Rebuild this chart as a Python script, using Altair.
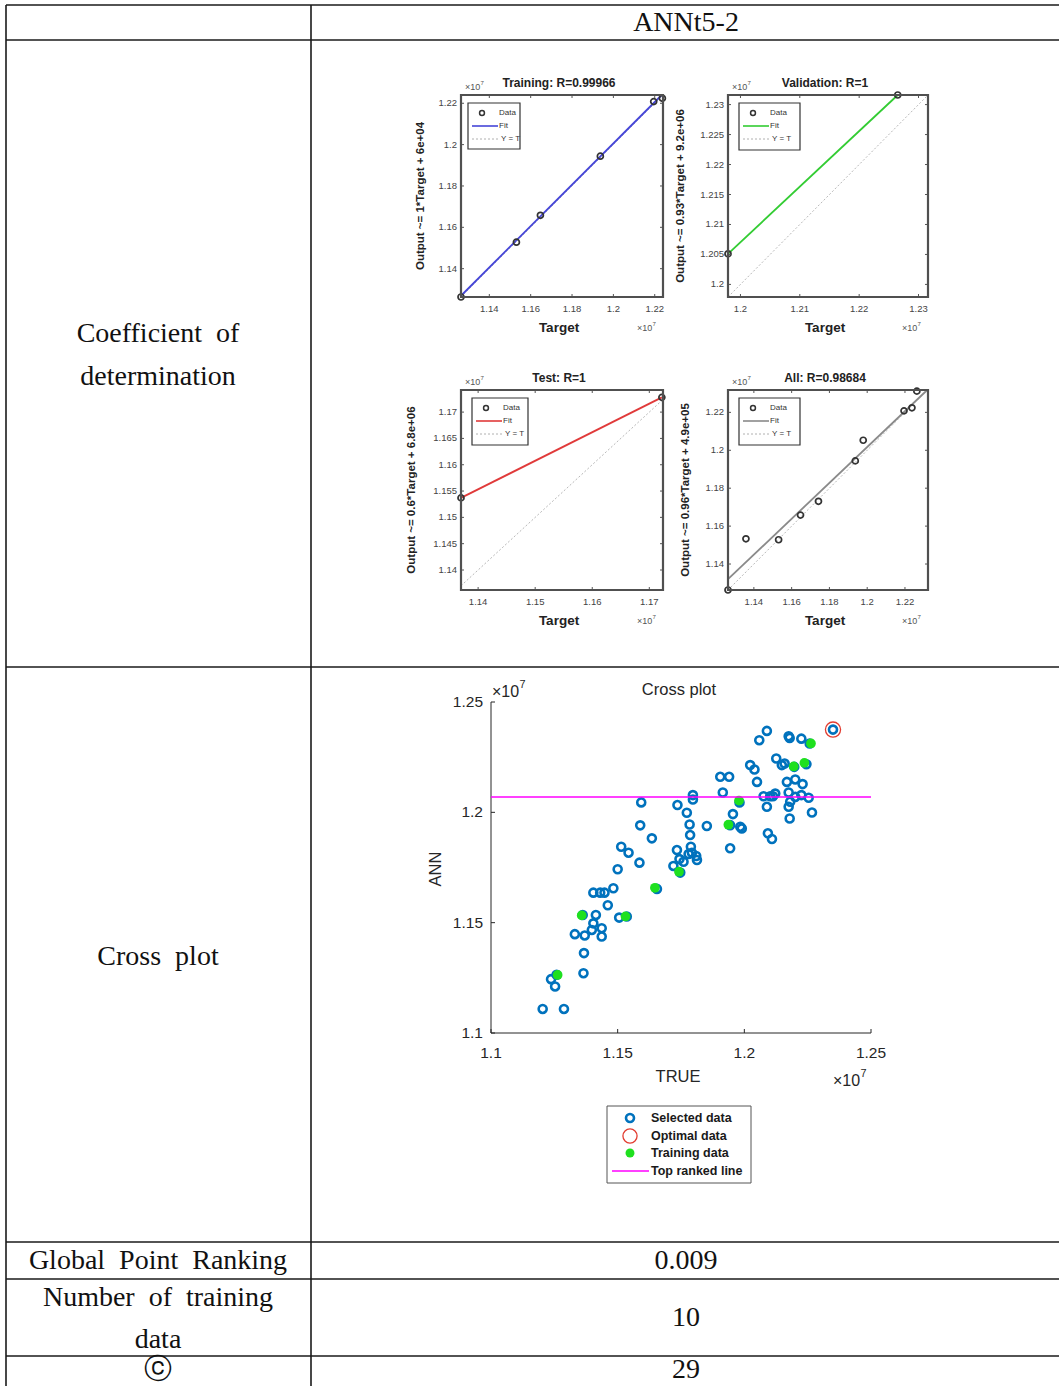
import altair as alt
import pandas as pd

W, H = 1059, 1386

# ---------------- data (all values in units of 1e7, as on the MATLAB axes) ----------------
TRAIN_TARGET = [1.1263, 1.1531, 1.1647, 1.1937, 1.2195, 1.2237]
TRAIN_OUTPUT = [1.1263, 1.1528, 1.1658, 1.1944, 1.2208, 1.2224]
TRAIN_FIT_X = [1.1263, 1.2234]
TRAIN_FIT_Y = [1.1269, 1.2240]

VAL_TARGET = [1.1979, 1.2265]
VAL_OUTPUT = [1.2051, 1.2316]
VAL_FIT_X = [1.1979, 1.2265]
VAL_FIT_Y = [1.2051, 1.2316]

TEST_TARGET = [1.1370, 1.1722]
TEST_OUTPUT = [1.1537, 1.1728]
TEST_FIT_X = [1.1370, 1.1722]
TEST_FIT_Y = [1.1537, 1.1728]

ALL_TARGET = [1.1263, 1.1358, 1.1531, 1.1647, 1.1742, 1.1937, 1.1979, 1.2195, 1.2237, 1.2263]
ALL_OUTPUT = [1.1263, 1.1533, 1.1528, 1.1658, 1.1731, 1.1944, 1.2053, 1.2208, 1.2224, 1.2312]
ALL_FIT_X = [1.1263, 1.2318]
ALL_FIT_Y = [1.1320, 1.2318]

TICKS_02 = [1.14, 1.16, 1.18, 1.2, 1.22]
VAL_XTICKS = [1.2, 1.21, 1.22, 1.23]
VAL_YTICKS = [1.2, 1.205, 1.21, 1.215, 1.22, 1.225, 1.23]
TEST_XTICKS = [1.14, 1.15, 1.16, 1.17]
TEST_YTICKS = [1.14, 1.145, 1.15, 1.155, 1.16, 1.165, 1.17]

SEL_TRUE = [
    1.1204, 1.1288, 1.1237, 1.1253, 1.1259, 1.1365, 1.1367, 1.1331, 1.1370, 1.1404,
    1.1431, 1.1448, 1.1461, 1.1483, 1.1414, 1.1404, 1.1398, 1.1437, 1.1437, 1.1506,
    1.1500, 1.1514, 1.1543, 1.1586, 1.1589, 1.1593, 1.1635, 1.1720, 1.1734, 1.1736,
    1.1744, 1.1760, 1.1773, 1.1784, 1.1786, 1.1789, 1.1797, 1.1797, 1.1793, 1.1780,
    1.1810, 1.1813, 1.1852, 1.1905, 1.1940, 1.1915, 1.1944, 1.1955, 1.1984, 1.1990,
    1.1944, 1.2023, 1.2040, 1.2050, 1.2059, 1.2089, 1.2076, 1.2089, 1.2093, 1.2109,
    1.2102, 1.2113, 1.2122, 1.2126, 1.2148, 1.2159, 1.2168, 1.2175, 1.2179, 1.2175,
    1.2181, 1.2175, 1.2179, 1.2201, 1.2225, 1.2230, 1.2225, 1.2254, 1.2267, 1.2350,
    1.2201, 1.2197, 1.2245, 1.2258, 1.1981, 1.1747, 1.1655, 1.1536, 1.1362]
SEL_ANN = [
    1.1109, 1.1109, 1.1244, 1.1211, 1.1264, 1.1271, 1.1362, 1.1448, 1.1442, 1.1636,
    1.1636, 1.1636, 1.1579, 1.1656, 1.1535, 1.1497, 1.1467, 1.1475, 1.1437, 1.1523,
    1.1742, 1.1844, 1.1817, 1.1772, 1.1941, 1.2045, 1.1882, 1.1757, 1.1829, 1.2033,
    1.1788, 1.1776, 1.1998, 1.1945, 1.1897, 1.1844, 1.2078, 1.2058, 1.1817, 1.1811,
    1.1802, 1.1784, 1.1938, 1.2161, 1.2161, 1.2090, 1.1837, 1.1992, 1.1935, 1.1927,
    1.1942, 1.2214, 1.2194, 1.2138, 1.2327, 1.2369, 1.2073, 1.2025, 1.1905, 1.1879,
    1.2073, 1.2073, 1.2085, 1.2244, 1.2214, 1.2221, 1.2138, 1.2345, 1.2337, 1.2090,
    1.2048, 1.2025, 1.1972, 1.2149, 1.2334, 1.2128, 1.2078, 1.2066, 1.1999, 1.2375,
    1.2070, 1.2206, 1.2218, 1.2312, 1.2045, 1.1727, 1.1653, 1.1528, 1.1535]
OPT_TRUE = [1.2350]
OPT_ANN = [1.2375]
TOP_RANKED_ANN = 1.2069
CROSS_TICKS = [1.1, 1.15, 1.2, 1.25]

ROW_LABELS = ["Coefficient\u2002of", "determination", "Cross\u2002plot",
              "Global\u2002Point\u2002Ranking", "Number\u2002of\u2002training", "data", "\u24d2"]
COLUMN_TITLE = "ANNt5-2"
VALUES = ["0.009", "10", "29"]

# ---------------- helpers ----------------
ONE = pd.DataFrame({"k": [0]})
SANS = "Liberation Sans"
SERIF = "Liberation Serif"
layers = []


def text(s, x, y, size, font=SANS, weight="normal", color="#222222",
         align="center", baseline="middle", angle=None):
    kw = dict(text=s, font=font, fontSize=size, fontWeight=weight, color=color,
              align=align, baseline=baseline)
    if angle is not None:
        kw["angle"] = angle
    layers.append(alt.Chart(ONE).mark_text(**kw).encode(x=alt.value(x), y=alt.value(y)))


def hline(y, x0, x1, color="#1a1a1a", width=1.6, dash=None):
    kw = dict(color=color, strokeWidth=width)
    if dash:
        kw["strokeDash"] = dash
    layers.append(alt.Chart(ONE).mark_rule(**kw).encode(
        x=alt.value(x0), x2=alt.value(x1), y=alt.value(y)))


def vline(x, y0, y1, color="#1a1a1a", width=1.6):
    layers.append(alt.Chart(ONE).mark_rule(color=color, strokeWidth=width).encode(
        x=alt.value(x), y=alt.value(y0), y2=alt.value(y1)))


def rect(x0, y0, x1, y1, stroke, width, fill=None):
    kw = dict(stroke=stroke, strokeWidth=width)
    if fill:
        kw["fill"] = fill
    else:
        kw["fillOpacity"] = 0
    layers.append(alt.Chart(ONE).mark_rect(**kw).encode(
        x=alt.value(x0), x2=alt.value(x1), y=alt.value(y0), y2=alt.value(y1)))


def marker(x, y, size, color, filled, width=1.5):
    layers.append(alt.Chart(ONE).mark_point(shape="circle", filled=filled, color=color, size=size,
                                            strokeWidth=width, opacity=1).encode(
        x=alt.value(x), y=alt.value(y)))


def times10(x, y, size, color, weight="normal"):
    text("\u00d710", x, y, size, color=color, align="left", weight=weight)
    text("7", x + 1.72 * size, y - 0.42 * size, 0.68 * size, color=color, align="left", weight=weight)


def small_plot(box, xdom, ydom, xticks, yticks, tgt, out, fitx, fity, fit_color,
               title, ylabel, ylab_x, leg):
    x0, y0, x1, y1 = box
    xs = alt.Scale(domain=xdom, range=[x0, x1], nice=False, zero=False)
    ys = alt.Scale(domain=ydom, range=[y1, y0], nice=False, zero=False)

    def X(f):
        return alt.X(f, type="quantitative", scale=xs, axis=None)

    def Y(f):
        return alt.Y(f, type="quantitative", scale=ys, axis=None)

    lo, hi = max(xdom[0], ydom[0]), min(xdom[1], ydom[1])
    layers.append(alt.Chart(pd.DataFrame({"a": [lo, hi], "b": [lo, hi]})).mark_line(
        color="#b8b8b8", strokeWidth=1, strokeDash=[2, 2]).encode(x=X("a"), y=Y("b")))
    layers.append(alt.Chart(pd.DataFrame({"a": fitx, "b": fity})).mark_line(
        color=fit_color, strokeWidth=1.8).encode(x=X("a"), y=Y("b")))
    layers.append(alt.Chart(pd.DataFrame({"a": tgt, "b": out})).mark_point(
        shape="circle", filled=False, color="#333333", size=36, strokeWidth=1.7, opacity=1).encode(
        x=X("a"), y=Y("b")))

    xt = pd.DataFrame({"t": xticks, "lab": [str(v) for v in xticks]})
    yt = pd.DataFrame({"t": yticks, "lab": [str(v) for v in yticks]})
    for ya, yb in ((y1, y1 - 3), (y0, y0 + 3)):
        layers.append(alt.Chart(xt).mark_rule(color="#555555", strokeWidth=1).encode(
            x=X("t"), y=alt.value(ya), y2=alt.value(yb)))
    for xa, xb in ((x0, x0 + 3), (x1, x1 - 3)):
        layers.append(alt.Chart(yt).mark_rule(color="#555555", strokeWidth=1).encode(
            y=Y("t"), x=alt.value(xa), x2=alt.value(xb)))
    layers.append(alt.Chart(xt).mark_text(font=SANS, fontSize=9.5, color="#444444",
                                          align="center", baseline="middle").encode(
        x=X("t"), y=alt.value(y1 + 12), text="lab:N"))
    layers.append(alt.Chart(yt).mark_text(font=SANS, fontSize=9.5, color="#444444",
                                          align="right", baseline="middle").encode(
        y=Y("t"), x=alt.value(x0 - 4), text="lab:N"))
    rect(x0, y0, x1, y1, "#505050", 2.2)

    # legend
    lx0, ly0, lx1, ly1 = leg
    rect(lx0, ly0, lx1, ly1, "#333333", 1.2, fill="white")
    r1, r2, r3 = ly0 + 10, ly0 + 23, ly0 + 36
    marker(lx0 + 14, r1, 24, "#333333", False, 1.5)
    text("Data", lx0 + 31, r1, 8, color="#333333", align="left")
    hline(r2, lx0 + 4, lx0 + 30, color=fit_color, width=1.6)
    text("Fit", lx0 + 31, r2, 8, color="#333333", align="left")
    hline(r3, lx0 + 4, lx0 + 30, color="#b0b0b0", width=1, dash=[2, 2])
    text("Y = T", lx0 + 33, r3, 8, color="#333333", align="left")

    # texts
    cx = (x0 + x1) / 2
    text(title, cx - 3, y0 - 12, 12, weight="bold", color="#222222")
    times10(x0 + 4, y0 - 8, 9, "#555555")
    times10(x1 - 26, y1 + 31, 9, "#555555")
    text("Target", cx - 3, y1 + 31, 13.5, weight="bold", color="#222222")
    text(ylabel, ylab_x, (y0 + y1) / 2, 11.5, weight="bold", color="#222222", angle=270)


# ---------------- table ----------------
TX0, TXM, TXR = 6, 311, 1059
hline(5, TX0, TXR)
for yy in (40, 667, 1242, 1279, 1356):
    hline(yy, TX0, TXR)
vline(TX0, 5, H)
vline(TXM, 5, H)

LC, RC = 158, 686
text(COLUMN_TITLE, RC, 23, 28, font=SERIF, color="#111111")
for lab, yy in zip(ROW_LABELS, (334, 377, 957, 1261, 1298, 1340, 1370)):
    text(lab, LC, yy, 28, font=SERIF, color="#111111")
for v, yy in zip(VALUES, (1261, 1318, 1370)):
    text(v, RC, yy, 28, font=SERIF, color="#111111")

# ---------------- regression panels ----------------
small_plot((461, 95, 663, 297), [1.1263, 1.2240], [1.1263, 1.2240], TICKS_02, TICKS_02,
           TRAIN_TARGET, TRAIN_OUTPUT, TRAIN_FIT_X, TRAIN_FIT_Y, "#4646d8",
           "Training: R=0.99966", "Output ~= 1*Target + 6e+04", 421, (468, 103, 520, 149))
small_plot((728, 95, 928, 297), [1.1979, 1.2316], [1.1979, 1.2316], VAL_XTICKS, VAL_YTICKS,
           VAL_TARGET, VAL_OUTPUT, VAL_FIT_X, VAL_FIT_Y, "#33cc33",
           "Validation: R=1", "Output ~= 0.93*Target + 9.2e+06", 681, (739, 103, 800, 150))
small_plot((461, 390, 663, 590), [1.1370, 1.1724], [1.1362, 1.1742], TEST_XTICKS, TEST_YTICKS,
           TEST_TARGET, TEST_OUTPUT, TEST_FIT_X, TEST_FIT_Y, "#e03a3a",
           "Test: R=1", "Output ~= 0.6*Target + 6.8e+06", 412, (472, 398, 528, 445))
small_plot((728, 390, 928, 590), [1.1263, 1.2322], [1.1263, 1.2318], TICKS_02, TICKS_02,
           ALL_TARGET, ALL_OUTPUT, ALL_FIT_X, ALL_FIT_Y, "#8a8a8a",
           "All: R=0.98684", "Output ~= 0.96*Target + 4.9e+05", 686, (739, 398, 800, 445))

# ---------------- cross plot ----------------
CX0, CY0, CX1, CY1 = 491, 702, 871, 1033
AX = "#262626"
cxs = alt.Scale(domain=[1.1, 1.25], range=[CX0, CX1], nice=False, zero=False)
cys = alt.Scale(domain=[1.1, 1.25], range=[CY1, CY0], nice=False, zero=False)


def CXe(f):
    return alt.X(f, type="quantitative", scale=cxs, axis=None)


def CYe(f):
    return alt.Y(f, type="quantitative", scale=cys, axis=None)


vline(CX0, CY0, CY1, color=AX, width=1)
hline(CY1, CX0, CX1, color=AX, width=1)
ct = pd.DataFrame({"t": CROSS_TICKS, "lab": [str(v) for v in CROSS_TICKS]})
layers.append(alt.Chart(ct).mark_rule(color=AX, strokeWidth=1).encode(
    x=CXe("t"), y=alt.value(CY1), y2=alt.value(CY1 - 4)))
layers.append(alt.Chart(ct).mark_rule(color=AX, strokeWidth=1).encode(
    y=CYe("t"), x=alt.value(CX0), x2=alt.value(CX0 + 4)))
layers.append(alt.Chart(ct).mark_text(font=SANS, fontSize=15.5, color=AX, align="center",
                                      baseline="middle").encode(
    x=CXe("t"), y=alt.value(CY1 + 20), text="lab:N"))
layers.append(alt.Chart(ct).mark_text(font=SANS, fontSize=15.5, color=AX, align="right",
                                      baseline="middle").encode(
    y=CYe("t"), x=alt.value(CX0 - 8), text="lab:N"))

layers.append(alt.Chart(pd.DataFrame({"a": SEL_TRUE, "b": SEL_ANN})).mark_point(
    shape="circle", filled=False, color="#0072BD", size=64, strokeWidth=2.6, opacity=1).encode(
    x=CXe("a"), y=CYe("b")))
layers.append(alt.Chart(pd.DataFrame({"a": OPT_TRUE, "b": OPT_ANN})).mark_point(
    shape="circle", filled=False, color="#e23c30", size=230, strokeWidth=1.3, opacity=1).encode(
    x=CXe("a"), y=CYe("b")))
layers.append(alt.Chart(pd.DataFrame({"a": ALL_TARGET, "b": ALL_OUTPUT})).mark_point(
    shape="circle", filled=True, color="#1fe01f", size=95, opacity=1).encode(
    x=CXe("a"), y=CYe("b")))
layers.append(alt.Chart(pd.DataFrame({"a": [1.1], "a2": [1.25], "b": [TOP_RANKED_ANN]})).mark_rule(
    color="#ff00ff", strokeWidth=1.5).encode(x=CXe("a"), x2="a2", y=CYe("b")))

text("Cross plot", 679, 690, 16.5, color=AX)
text("TRUE", 678, 1077, 16.5, color=AX)
text("ANN", 436, 869, 16.5, color=AX, angle=270)
times10(492, 692, 16, AX)
times10(833, 1081, 16, AX)

# legend
rect(607, 1106, 751, 1183, "#555555", 1, fill="white")
marker(630, 1118, 64, "#0072BD", False, 2.6)
marker(630, 1136, 200, "#e23c30", False, 1.3)
marker(630, 1153, 80, "#1fe01f", True)
hline(1171, 612, 649, color="#ff00ff", width=1.5)
for lab, yy in zip(["Selected data", "Optimal data", "Training data", "Top ranked line"],
                   (1118, 1136, 1153, 1171)):
    text(lab, 651, yy, 12.5, weight="bold", color="#1a1a1a", align="left")

chart = alt.layer(*layers).resolve_scale(x="independent", y="independent").properties(
    width=W, height=H, padding=0, autosize=alt.AutoSizeParams(type="none"),
    background="white",
).configure_view(strokeWidth=0)

chart.save("out.html", embed_options={"renderer": "svg", "actions": False})
